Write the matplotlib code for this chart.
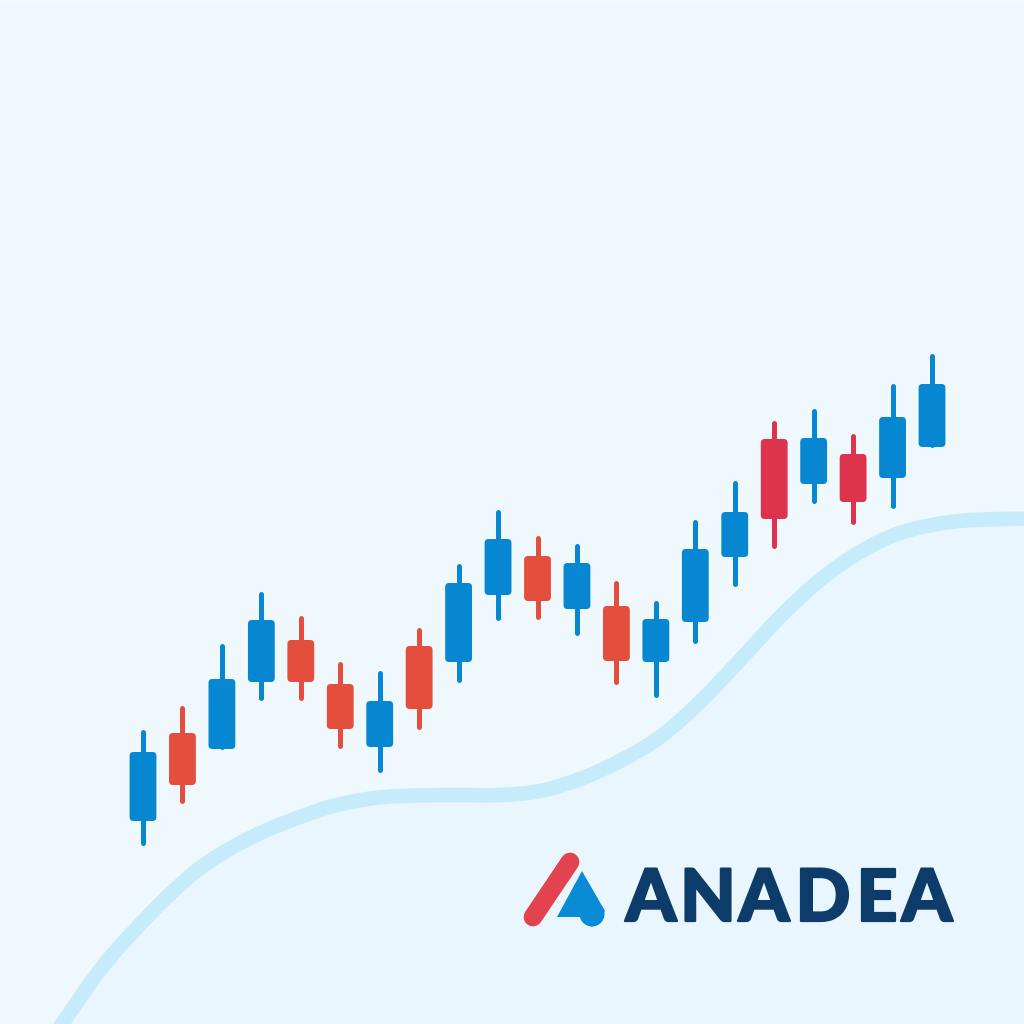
import matplotlib.pyplot as plt
import numpy as np
from matplotlib.patches import FancyBboxPatch, Polygon, Circle, PathPatch
from matplotlib.path import Path
import matplotlib.patheffects as pe

# candle values (price units)
opens = [203, 291, 275, 342, 384, 340, 277, 378, 362, 429, 468,
         415, 418, 362, 402, 467, 585, 540, 570, 546, 577]
closes = [272, 239, 345, 404, 342, 295, 323, 315, 441, 485, 423,
          461, 363, 405, 475, 512, 505, 586, 522, 607, 640]
highs = [294, 318, 380, 432, 408, 362, 353, 396, 460, 514, 488,
         480, 443, 423, 504, 543, 603, 615, 590, 640, 670]
lows = [179, 221, 275, 324, 324, 276, 252, 295, 342, 404, 405,
        389, 340, 327, 381, 438, 476, 521, 500, 516, 577]

# decorative wave behind the candles (pixel coords)
curve_x = [55, 62, 100, 133, 167, 200, 233, 267, 300, 333, 367, 400, 450, 500,
           540, 580, 620, 660, 700, 740, 780, 820, 860, 900, 950, 1000, 1030]
curve_y = [1035, 1024, 970, 932, 897, 868, 847, 830, 817, 806, 799, 796, 795, 795,
           791, 779, 761, 737, 702, 660, 617, 580, 552, 533, 522, 519, 519]

brand = "ANADEA"
letter_x = [651, 708, 764, 823, 877, 927]

fig = plt.figure(figsize=(10.24, 10.24), dpi=100)

# background
bg = fig.add_axes([0, 0, 1, 1])
bg.set_xlim(0, 1024)
bg.set_ylim(1024, 0)
bg.axis('off')
top = np.array([0xEF, 0xF9, 0xFE]) / 255
bot = np.array([0xEE, 0xF8, 0xFD]) / 255
t = np.linspace(0, 1, 256)[:, None, None]
grad = top * (1 - t) + bot * t
grad = np.repeat(grad, 4, axis=1)
bg.imshow(grad, extent=(0, 1024, 1024, 0), aspect='auto', zorder=0)

# smooth the wave through its knots (Catmull-Rom as cubic Beziers)
pts = np.column_stack([curve_x, curve_y]).astype(float)
ext = np.vstack([pts[0], pts, pts[-1]])
verts = [tuple(pts[0])]
codes = [Path.MOVETO]
for k in range(len(pts) - 1):
    p0, p1, p2, p3 = ext[k], ext[k + 1], ext[k + 2], ext[k + 3]
    verts += [tuple(p1 + (p2 - p0) / 6), tuple(p2 - (p3 - p1) / 6), tuple(p2)]
    codes += [Path.CURVE4] * 3
wave = Path(verts, codes)
fill_path = Path(verts + [(1030, 1040), (55, 1040), verts[0]],
                 codes + [Path.LINETO, Path.LINETO, Path.CLOSEPOLY])
bg.add_patch(PathPatch(fill_path, fc='#EAF6FD', ec='none', zorder=1))
bg.add_patch(PathPatch(wave, fc='none', ec='#C6EBFB', lw=10.5,
                       capstyle='butt', zorder=2))

# logo
bg.plot([533, 570], [917, 862], color='#E2434F', lw=13.5,
        solid_capstyle='round', zorder=3)
bg.add_patch(Polygon([(582, 871), (557, 917), (580, 917), (592, 927), (605, 911)],
                     closed=True, fc='#0A8BD6', ec='none', zorder=3))
bg.add_patch(Circle((592, 914), 12.5, fc='#0A8BD6', ec='none', zorder=3))
for ch, x in zip(brand, letter_x):
    bg.text(x, 921, ch, ha='center', va='baseline', fontsize=52,
            fontfamily='Lato', fontweight='black', color='#0D3C6A', zorder=4,
            path_effects=[pe.withStroke(linewidth=1.6, foreground='#0D3C6A')])

# candles
ax = fig.add_axes([0, 0, 1, 1])
ax.patch.set_alpha(0)
step = 39.45
ax.set_xlim(-143 / step, (1024 - 143) / step)
ax.set_ylim(0, 1024)
ax.axis('off')

blue = '#0787D2'
orange_red = '#E44F3D'
crimson = '#DE334D'
body_w = 0.68
cap = 2  # round wick caps stick out about 2 px
for i, (o, c, h, l) in enumerate(zip(opens, closes, highs, lows)):
    if c >= o:
        col = blue
    elif i >= 16:
        col = crimson
    else:
        col = orange_red
    ax.vlines(i, l + cap, h - cap, color=col, lw=3.6, capstyle='round', zorder=2)
    ax.add_patch(FancyBboxPatch((i - body_w / 2, min(o, c)), body_w, abs(c - o),
                                boxstyle="round,pad=0,rounding_size=0.1",
                                mutation_aspect=step, fc=col, ec='none', zorder=3))

fig.savefig('out.png', dpi=100)
